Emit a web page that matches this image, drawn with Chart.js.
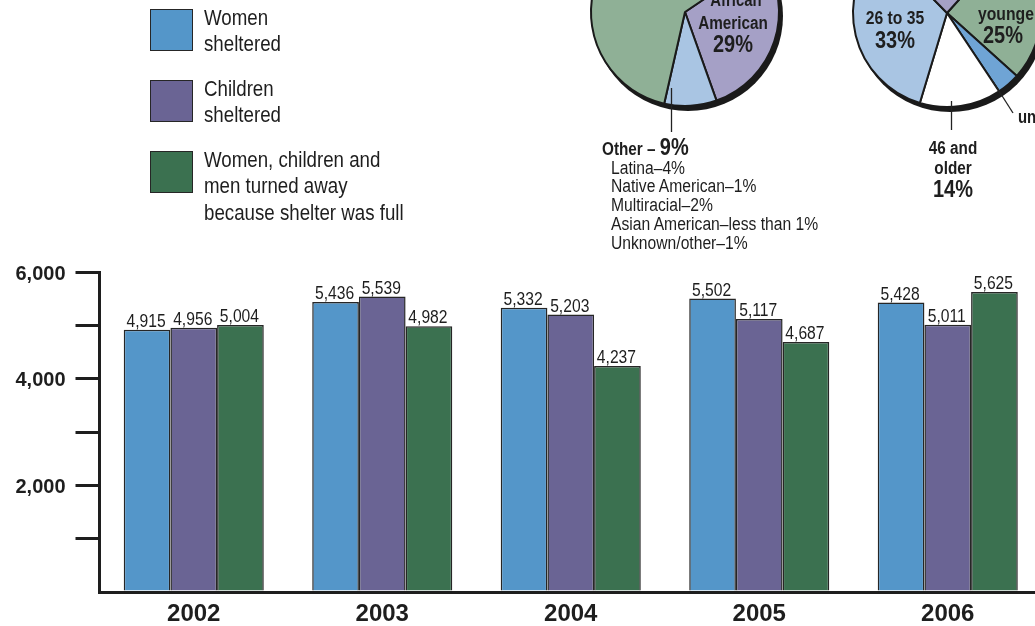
<!DOCTYPE html>
<html><head><meta charset="utf-8">
<script src="https://cdn.jsdelivr.net/npm/chart.js@4.4.1/dist/chart.umd.min.js"></script>
<style>
html,body{margin:0;padding:0;background:#fff;}
body{width:1035px;height:626px;overflow:hidden;position:relative;color:#1e1e1e;}
canvas{position:absolute;}
.t{position:absolute;white-space:nowrap;font-family:"Liberation Sans",Arial,sans-serif;transform-origin:0 50%;transform:scaleX(0.87);}
.b{font-weight:bold;transform:scaleX(0.85);}
.c{transform-origin:50% 50%;transform:translateX(-50%) scaleX(0.85);text-align:center;}
.sw{position:absolute;width:41px;height:40px;border:1.5px solid #262626;}
svg{position:absolute;left:0;top:0;}
</style></head>
<body>
<canvas id="bars" width="1060" height="626" style="left:0;top:0;width:1060px;height:626px"></canvas>
<canvas id="race" width="220" height="220" style="left:575px;top:-98px;width:220px;height:220px"></canvas>
<canvas id="age" width="220" height="220" style="left:837px;top:-97px;width:220px;height:220px"></canvas>
<div id="legend"></div>
<svg width="1035" height="626">
  <line x1="671.5" y1="88" x2="671.5" y2="132" stroke="#222" stroke-width="1.3"/>
  <line x1="951.5" y1="101" x2="951.5" y2="130" stroke="#222" stroke-width="1.3"/>
  <line x1="992" y1="80" x2="1013" y2="113" stroke="#222" stroke-width="1.3"/>
</svg>
<div id="labels"></div>
<script>
// ---- data ----
const years = ['2002', '2003', '2004', '2005', '2006'];
const womenSheltered = [4915, 5436, 5332, 5502, 5428];
const childrenSheltered = [4956, 5539, 5203, 5117, 5011];
const turnedAway = [5004, 4982, 4237, 4687, 5625];
const yTickLabels = {6000: '6,000', 4000: '4,000', 2000: '2,000'};
const legendLines = [
  ['Women', 'sheltered'],
  ['Children', 'sheltered'],
  ['Women, children and', 'men turned away', 'because shelter was full']
];
const raceLabels = ['African American', 'Other', 'Remaining'];
const raceValues = [29, 9, 62];
const ageLabels = ['25 and younger', 'unknown', '46 and older', '26 to 35', '36 to 45'];
const ageValues = [25, 4, 14, 33, 24];
const otherBreakdown = ['Latina–4%', 'Native American–1%', 'Multiracial–2%', 'Asian American–less than 1%', 'Unknown/other–1%'];

// ---- styles ----
const barColors = ['#5496c9', '#6a6494', '#3b7150'];
const INK = '#1e1e1e';
const FONT = '"Liberation Sans","DejaVu Sans",sans-serif';

const valueLabels = {
  id: 'valueLabels',
  afterDatasetsDraw(chart) {
    const c = chart.ctx;
    c.save();
    c.font = '18px ' + FONT;
    c.fillStyle = INK;
    c.textAlign = 'center';
    c.textBaseline = 'alphabetic';
    chart.data.datasets.forEach((ds, i) => {
      chart.getDatasetMeta(i).data.forEach((bar, j) => {
        c.save();
        c.translate(bar.x - 1, bar.y - 3);
        c.scale(0.87, 1);
        c.fillText(ds.data[j].toLocaleString('en-US'), 0, 0);
        c.restore();
      });
    });
    c.restore();
  }
};

new Chart(document.getElementById('bars'), {
  type: 'bar',
  data: {
    labels: years,
    datasets: [
      {label: legendLines[0].join(' '), data: womenSheltered, backgroundColor: barColors[0]},
      {label: legendLines[1].join(' '), data: childrenSheltered, backgroundColor: barColors[1]},
      {label: legendLines[2].join(' '), data: turnedAway, backgroundColor: barColors[2]}
    ].map(d => Object.assign(d, {borderColor: '#262626', borderWidth: 1.5}))
  },
  options: {
    responsive: false, animation: false,
    layout: {padding: {top: 272, right: 18, left: 0, bottom: 0}},
    datasets: {bar: {barPercentage: 1, categoryPercentage: 0.743}},
    plugins: {legend: {display: false}, tooltip: {enabled: false}},
    scales: {
      x: {
        grid: {display: false, drawTicks: false},
        border: {color: INK, width: 3},
        ticks: {color: INK, padding: 8, font: {family: FONT, weight: 'bold', size: 24}},
        afterFit(s) { s.height = 34; }
      },
      y: {
        min: 0, max: 6000,
        ticks: {stepSize: 1000, color: INK, padding: 10, labelOffset: 2,
          font: {family: FONT, weight: 'bold', size: 20},
          callback: v => yTickLabels[v] || ''},
        grid: {drawOnChartArea: false, tickLength: 24, lineWidth: 3,
          color: ctx => (ctx.tick && ctx.tick.value === 0) ? 'rgba(0,0,0,0)' : INK},
        border: {color: INK, width: 3},
        afterFit(s) { s.width = 99.5; }
      }
    }
  },
  plugins: [valueLabels]
});

const pieShadow = {
  id: 'pieShadow',
  beforeDatasetsDraw(chart) {
    const a = chart.getDatasetMeta(0).data[0];
    const c = chart.ctx;
    c.save();
    c.fillStyle = '#1a1a1a';
    c.beginPath();
    c.arc(a.x + 3, a.y + 4, a.outerRadius + 1, 0, Math.PI * 2);
    c.fill();
    c.restore();
  }
};
function pie(id, labels, values, colors, rotation) {
  new Chart(document.getElementById(id), {
    type: 'pie',
    data: {labels, datasets: [{data: values, backgroundColor: colors, borderColor: '#1a1a1a', borderWidth: 2}]},
    options: {responsive: false, animation: false, rotation, layout: {padding: 15},
      plugins: {legend: {display: false}, tooltip: {enabled: false}}},
    plugins: [pieShadow]
  });
}
pie('race', raceLabels, raceValues, ['#a5a0c6', '#a9c5e3', '#8fb096'], 56);
pie('age', ageLabels, ageValues, ['#8fb096', '#6fa4d5', '#ffffff', '#a9c5e3', '#a5a0c6'], 42);

// ---- legend (built from dataset colours) ----
const leg = document.getElementById('legend');
legendLines.forEach((lines, i) => {
  const top = 9 + i * 71;
  const sw = document.createElement('div');
  sw.className = 'sw';
  sw.style.left = '150px'; sw.style.top = top + 'px'; sw.style.background = barColors[i];
  leg.appendChild(sw);
  const tx = document.createElement('div');
  tx.className = 't';
  tx.style.left = '204px'; tx.style.top = (top - 4.5) + 'px';
  tx.style.fontSize = '21.5px'; tx.style.lineHeight = '26.5px';
  tx.style.transformOrigin = '0 0';
  tx.innerHTML = lines.join('<br>');
  leg.appendChild(tx);
});

// ---- pie annotations ----
const L = document.getElementById('labels');
function txt(s, x, cy, size, opts = {}) {
  const d = document.createElement('div');
  d.className = 't' + (opts.bold ? ' b' : '') + (opts.center ? ' c' : '');
  d.style.fontSize = size + 'px';
  const lh = size * 1.15;
  d.style.lineHeight = lh + 'px';
  d.style.left = x + 'px';
  d.style.top = (cy - lh / 2) + 'px';
  d.innerHTML = s;
  L.appendChild(d);
}
txt('African', 736, 0, 17.5, {bold: true, center: true});
txt('American', 733, 23, 18, {bold: true, center: true});
txt('29%', 733, 45, 23.5, {bold: true, center: true});
txt('26 to 35', 895, 18, 18.5, {bold: true, center: true});
txt('33%', 895, 41, 23.5, {bold: true, center: true});
txt('younger', 978, 14, 18.5, {bold: true});
txt('25%', 1003, 36, 23.5, {bold: true, center: true});
txt('unknown', 1018, 117, 17.5, {bold: true});
txt('46 and', 953, 148, 18, {bold: true, center: true});
txt('older', 953, 168, 18, {bold: true, center: true});
txt('14%', 953, 190, 23.5, {bold: true, center: true});
txt('Other – <span style="font-size:23.5px">9%</span>', 602, 147, 18, {bold: true});
otherBreakdown.forEach((s, i) => txt(s, 611, 168 + i * 18.8, 18));
</script>
</body></html>
